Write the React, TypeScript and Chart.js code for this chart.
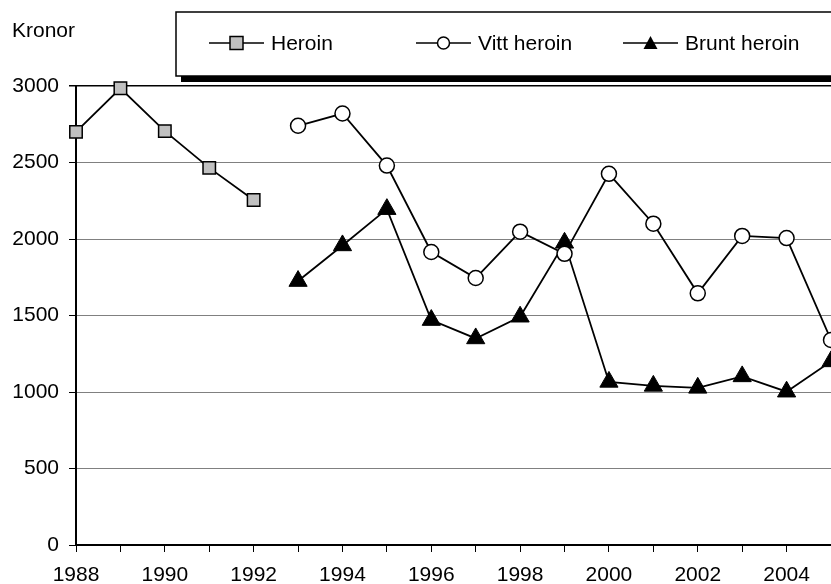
import React, { useEffect, useRef } from 'react';
import { Chart, registerables } from 'chart.js';

Chart.register(...registerables);

const heroinYears = [1988, 1989, 1990, 1991, 1992];
const heroin = [2700, 2985, 2705, 2465, 2255];
const laterYears = [1993, 1994, 1995, 1996, 1997, 1998, 1999, 2000, 2001, 2002, 2003, 2004, 2005];
const vittHeroin = [2740, 2820, 2480, 1915, 1745, 2048, 1903, 2426, 2100, 1645, 2020, 2006, 1340];
const bruntHeroin = [1725, 1958, 2195, 1470, 1350, 1492, 1975, 1066, 1040, 1027, 1102, 1002, 1200];
const seriesLabels = ['Heroin', 'Vitt heroin', 'Brunt heroin'];
const yAxisTitle = 'Kronor';
const yTicks = [0, 500, 1000, 1500, 2000, 2500, 3000];
const xMin = 1988;
const xMax = 2005;

const FONT = '"Liberation Sans", Arial, Helvetica, sans-serif';
const FS = 21;

function drawMarker(ctx: CanvasRenderingContext2D, kind: string, x: number, y: number, s: number) {
  ctx.save();
  ctx.lineWidth = 1.5;
  ctx.strokeStyle = '#000';
  if (kind === 'rect') {
    ctx.fillStyle = '#c0c0c0';
    ctx.beginPath();
    ctx.rect(x - s, y - s, 2 * s, 2 * s);
    ctx.fill();
    ctx.stroke();
  } else if (kind === 'circle') {
    ctx.fillStyle = '#fff';
    ctx.beginPath();
    ctx.arc(x, y, s, 0, Math.PI * 2);
    ctx.fill();
    ctx.stroke();
  } else {
    ctx.fillStyle = '#000';
    ctx.beginPath();
    ctx.moveTo(x, y - s);
    ctx.lineTo(x + s, y + s * 0.85);
    ctx.lineTo(x - s, y + s * 0.85);
    ctx.closePath();
    ctx.fill();
  }
  ctx.restore();
}

const overlayPlugin = {
  id: 'overlay',
  afterDraw(chart: any) {
    const ctx: CanvasRenderingContext2D = chart.ctx;
    ctx.save();
    ctx.font = `${FS}px ${FONT}`;
    ctx.fillStyle = '#000';
    ctx.textBaseline = 'middle';
    ctx.textAlign = 'left';
    ctx.fillText(yAxisTitle, 12, 31);

    // legend box with shadow
    const bx = 176, by = 12, bw = 700, bh = 64;
    ctx.fillStyle = '#000';
    ctx.fillRect(bx + 5, by + 5, bw, bh + 1);
    ctx.fillStyle = '#fff';
    ctx.fillRect(bx, by, bw, bh);
    ctx.lineWidth = 1.5;
    ctx.strokeStyle = '#000';
    ctx.strokeRect(bx, by, bw, bh);

    const items = [
      { x: 209, kind: 'rect', s: 6.5 },
      { x: 416, kind: 'circle', s: 6 },
      { x: 623, kind: 'tri', s: 7 },
    ];
    const ly = 43;
    items.forEach((it, i) => {
      ctx.strokeStyle = '#000';
      ctx.lineWidth = 1.5;
      ctx.beginPath();
      ctx.moveTo(it.x, ly);
      ctx.lineTo(it.x + 55, ly);
      ctx.stroke();
      drawMarker(ctx, it.kind, it.x + 27.5, ly, it.s);
      ctx.fillStyle = '#000';
      ctx.font = `${FS}px ${FONT}`;
      ctx.textBaseline = 'middle';
      ctx.fillText(seriesLabels[i], it.x + 62, ly + 1);
    });
    ctx.restore();
  },
};

export default function App() {
  const ref = useRef<HTMLCanvasElement | null>(null);
  useEffect(() => {
    if (!ref.current) return;
    const font = { family: FONT, size: FS };
    const chart = new Chart(ref.current, {
      type: 'line',
      data: {
        datasets: [
          {
            label: seriesLabels[0],
            data: heroinYears.map((x, i) => ({ x, y: heroin[i] })),
            borderColor: '#000',
            borderWidth: 1.8,
            pointStyle: 'rect',
            pointRadius: 8.8,
            pointBorderWidth: 1.5,
            pointBackgroundColor: '#c0c0c0',
            pointBorderColor: '#000',
            clip: false,
          },
          {
            label: seriesLabels[1],
            data: laterYears.map((x, i) => ({ x, y: vittHeroin[i] })),
            borderColor: '#000',
            borderWidth: 1.8,
            pointStyle: 'circle',
            pointRadius: 7.5,
            pointBorderWidth: 1.5,
            pointBackgroundColor: '#fff',
            pointBorderColor: '#000',
            clip: false,
          },
          {
            label: seriesLabels[2],
            data: laterYears.map((x, i) => ({ x, y: bruntHeroin[i] })),
            borderColor: '#000',
            borderWidth: 1.8,
            pointStyle: 'triangle',
            pointRadius: 10.5,
            pointBorderWidth: 1,
            pointBackgroundColor: '#000',
            pointBorderColor: '#000',
            clip: false,
          },
        ],
      },
      options: {
        animation: false,
        responsive: false,
        maintainAspectRatio: false,
        layout: { autoPadding: false, padding: { top: 86, left: 0, right: 0, bottom: 0 } },
        plugins: { legend: { display: false }, tooltip: { enabled: false }, title: { display: false } },
        elements: { line: { tension: 0 } },
        scales: {
          x: {
            type: 'linear',
            min: xMin,
            max: xMax,
            afterBuildTicks: (s: any) => {
              const t = [];
              for (let v = xMin; v <= xMax; v++) t.push({ value: v });
              s.ticks = t;
            },
            ticks: {
              autoSkip: false,
              maxRotation: 0,
              color: '#000',
              font,
              padding: 11,
              callback: (v: any) => (Number(v) % 2 === 0 ? String(v) : ''),
            },
            grid: {
              color: (c: any) => (c.tick && c.tick.value === xMax ? '#c8c8c8' : 'rgba(0,0,0,0)'),
              tickColor: '#000',
              tickLength: 7,
              lineWidth: 1,
            },
            border: { color: '#000', width: 2 },
            afterFit: (s: any) => {
              s.height = 39;
              s.paddingLeft = 0;
              s.paddingRight = 0;
            },
          },
          y: {
            min: 0,
            max: 3000,
            afterBuildTicks: (s: any) => {
              s.ticks = yTicks.map((v) => ({ value: v }));
            },
            ticks: {
              color: '#000',
              font,
              padding: 10,
              callback: (v: any) => String(v),
            },
            grid: {
              color: (c: any) => (c.tick && c.tick.value === 3000 ? '#000' : '#808080'),
              lineWidth: (c: any) => (c.tick && c.tick.value === 3000 ? 1.5 : 1),
              tickColor: '#000',
              tickLength: 7,
            },
            border: { color: '#000', width: 2 },
            afterFit: (s: any) => {
              s.width = 76;
              s.paddingTop = 0;
              s.paddingBottom = 0;
            },
          },
        },
      },
      plugins: [overlayPlugin],
    });
    return () => chart.destroy();
  }, []);
  return (
    <div style={{ position: 'fixed', left: 0, top: 0, width: 831, height: 584, background: '#fff' }}>
      <canvas ref={ref} width={831} height={584} style={{ display: 'block', width: 831, height: 584 }} />
    </div>
  );
}
